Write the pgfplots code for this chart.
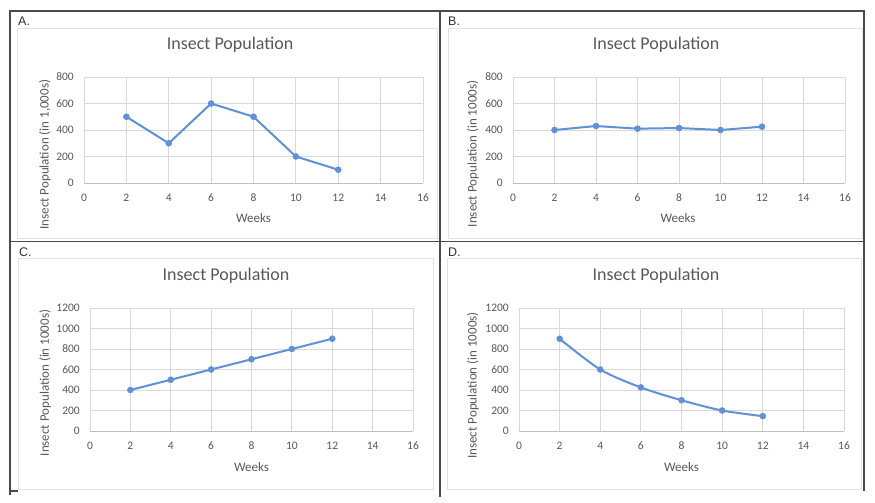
\documentclass[border=0pt]{standalone}
\usepackage{fontspec}
\setmainfont{Carlito}
\newfontfamily\arialf{Liberation Sans}
\usepackage{pgfplots}
\pgfplotsset{compat=1.18}
\definecolor{txt}{HTML}{595959}
\definecolor{gridc}{HTML}{D9D9D9}
\definecolor{axisc}{HTML}{BFBFBF}
\definecolor{frame}{HTML}{E3E3E3}
\definecolor{border}{HTML}{4A4A4A}
\definecolor{lineblue}{RGB}{95,145,215}
\pgfplotsset{
  excel/.style={
    scale only axis, anchor=south west,
    xmin=0, xmax=16, xtick={0,2,...,16},
    grid=major, grid style={draw=gridc, line width=0.8pt},
    axis line style={draw=none},
    major tick length=0pt,
    tick label style={font=\fontsize{11.5}{12}\selectfont, text=txt, inner sep=0pt},
    /pgf/number format/assume math mode=true,
    /pgf/number format/1000 sep={},
    scaled ticks=false,
    xticklabel style={anchor=center, yshift=-15pt},
    yticklabel style={anchor=east, xshift=-10pt},
    title style={font=\fontsize{18}{20}\selectfont, text=txt, anchor=center, inner sep=0pt},
    xlabel style={font=\fontsize{13}{14}\selectfont, text=txt, anchor=center, inner sep=0pt},
    ylabel style={font=\fontsize{13}{14}\selectfont, text=txt, anchor=center, inner sep=0pt},
    title={Insect Population}, xlabel={Weeks},
    clip=false,
  },
  ser/.style={color=lineblue, line width=2pt, mark=*, mark size=3pt, mark options={fill=lineblue, draw=lineblue, line width=0.5pt}},
}
\begin{document}
\begin{tikzpicture}[x=1pt,y=1pt]
\useasboundingbox (0,0) rectangle (875,503);
\fill[white] (0,0) rectangle (875,503);
% inner chart frames
\draw[frame, line width=0.8pt] (17,265) rectangle (437,475);
\draw[frame, line width=0.8pt] (448,265) rectangle (862,475);
\draw[frame, line width=0.8pt] (18,14) rectangle (433,245);
\draw[frame, line width=0.8pt] (447,14) rectangle (861,245);
% outer borders
\draw[border, line width=1.2pt] (10,8) -- (10,492) -- (864,492) -- (864,12);
\draw[border, line width=1.2pt] (440,492) -- (440,6);
\draw[border, line width=1.2pt] (10,261.5) -- (864,261.5);
\draw[border, line width=1.2pt] (10,12) -- (18,12);
% panel labels
\node[anchor=base west, inner sep=0pt, text=black!80, font=\arialf\fontsize{12.5}{13}\selectfont] at (18,477) {A.};
\node[anchor=base west, inner sep=0pt, text=black!80, font=\arialf\fontsize{12.5}{13}\selectfont] at (448,477) {B.};
\node[anchor=base west, inner sep=0pt, text=black!80, font=\arialf\fontsize{12.5}{13}\selectfont] at (19,246) {C.};
\node[anchor=base west, inner sep=0pt, text=black!80, font=\arialf\fontsize{12.5}{13}\selectfont] at (448,246) {D.};

% A
\begin{axis}[excel, at={(84pt,320pt)}, width=339pt, height=106pt,
  ymin=0, ymax=800, ytick={0,200,...,800},
  title style={at={(axis description cs:0.431,1.245)}},
  xlabel style={at={(axis description cs:0.5,-0.33)}},
  ylabel style={at={(axis description cs:-0.115,0.267)}},
  ylabel={Insect Population (in 1,000s)}]
\draw[axisc, line width=0.8pt] (axis cs:0,0) -- (axis cs:16,0);
\addplot[ser] coordinates {(2,500) (4,300) (6,600) (8,500) (10,200) (12,100)};
\end{axis}

% B
\begin{axis}[excel, at={(513pt,320pt)}, width=332pt, height=106pt,
  ymin=0, ymax=800, ytick={0,200,...,800},
  title style={at={(axis description cs:0.431,1.245)}},
  xlabel style={at={(axis description cs:0.497,-0.33)}},
  ylabel style={at={(axis description cs:-0.1205,0.274)}},
  ylabel={Insect Population (in 1000s)}]
\draw[axisc, line width=0.8pt] (axis cs:0,0) -- (axis cs:16,0);
\addplot[ser] coordinates {(2,400) (4,430) (6,410) (8,415) (10,400) (12,425)};
\end{axis}

% C
\begin{axis}[excel, at={(90pt,72pt)}, width=323pt, height=123pt,
  ymin=0, ymax=1200, ytick={0,200,...,1200},
  title style={at={(axis description cs:0.421,1.214)}},
  xlabel style={at={(axis description cs:0.5,-0.29)}},
  ylabel style={at={(axis description cs:-0.139,0.39)}},
  ylabel={Insect Population (in 1000s)}]
\draw[axisc, line width=0.8pt] (axis cs:0,0) -- (axis cs:16,0);
\addplot[ser] coordinates {(2,400) (4,500) (6,600) (8,700) (10,800) (12,900)};
\end{axis}

% D
\begin{axis}[excel, at={(519pt,72pt)}, width=325pt, height=123pt,
  ymin=0, ymax=1200, ytick={0,200,...,1200},
  title style={at={(axis description cs:0.4215,1.214)}},
  xlabel style={at={(axis description cs:0.5,-0.29)}},
  ylabel style={at={(axis description cs:-0.1415,0.37)}},
  ylabel={Insect Population (in 1000s)}]
\draw[axisc, line width=0.8pt] (axis cs:0,0) -- (axis cs:16,0);
\addplot[ser, smooth, tension=0.5] coordinates {(2,900) (4,600) (6,425) (8,300) (10,200) (12,145)};
\end{axis}
\end{tikzpicture}
\end{document}
